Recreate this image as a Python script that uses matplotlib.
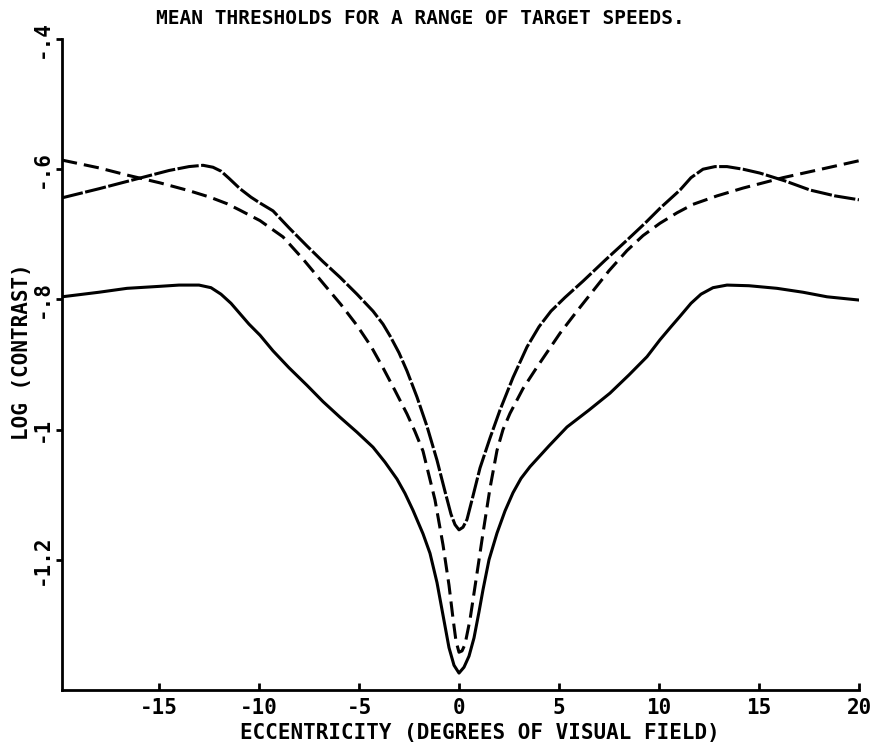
import matplotlib
matplotlib.use("Agg")
import matplotlib.pyplot as plt

# eccentricity (deg) and log contrast
x_solid = [-19.85, -18, -16.6, -15, -14, -13, -12.4, -11.9, -11.4, -10.95, -10.5, -9.95,
           -9.3, -8.5, -7.6, -6.8, -5.95, -5.1, -4.3, -3.7, -3.1, -2.7, -2.3, -1.8, -1.45,
           -1.1, -0.8, -0.5, -0.25, 0, 0.25, 0.5, 0.75, 1.0, 1.2, 1.5, 1.9, 2.3, 2.7,
           3.1, 3.55, 4.5, 5.4, 6.5, 7.55, 8.5, 9.4, 10.05, 10.6, 11.05, 11.6, 12.1,
           12.7, 13.4, 14.5, 15.9, 17.2, 18.4, 20.0]
y_solid = [-0.796, -0.789, -0.783, -0.780, -0.778, -0.778, -0.782, -0.792, -0.806, -0.822,
           -0.838, -0.855, -0.879, -0.905, -0.932, -0.957, -0.981, -1.004, -1.027, -1.050,
           -1.076, -1.098, -1.124, -1.160, -1.190, -1.235, -1.285, -1.335, -1.362, -1.374,
           -1.365, -1.348, -1.320, -1.280, -1.246, -1.200, -1.159, -1.125, -1.097, -1.075,
           -1.057, -1.025, -0.996, -0.970, -0.944, -0.916, -0.888, -0.862, -0.842, -0.826,
           -0.806, -0.792, -0.782, -0.778, -0.779, -0.783, -0.789, -0.796, -0.801]

x_peak = [-19.85, -18, -16, -14.5, -13.5, -12.8, -12.3, -11.9, -11.5, -10.95, -10.4,
          -9.95, -9.3, -8.5, -7.6, -6.8, -5.95, -5.1, -4.3, -3.8, -3.45, -3.0, -2.6,
          -2.1, -1.6, -1.1, -0.7, -0.4, -0.2, 0, 0.2, 0.4, 0.65, 1.05, 1.55, 2.05, 2.7,
          3.4, 4.0, 4.6, 5.3, 6.2, 7.3, 8.4, 9.3, 10.05, 11.05, 11.6, 12.2, 12.8, 13.4,
          14.2, 15.05, 16.3, 17.55, 18.8, 20.0]
y_peak = [-0.644, -0.630, -0.614, -0.602, -0.596, -0.594, -0.597, -0.603, -0.614, -0.630,
          -0.643, -0.652, -0.664, -0.690, -0.718, -0.742, -0.766, -0.792, -0.818, -0.838,
          -0.856, -0.882, -0.910, -0.950, -0.995, -1.047, -1.095, -1.130, -1.146, -1.154,
          -1.150, -1.138, -1.108, -1.059, -1.013, -0.970, -0.920, -0.873, -0.842, -0.818,
          -0.797, -0.772, -0.740, -0.709, -0.683, -0.660, -0.632, -0.613, -0.600, -0.596,
          -0.596, -0.600, -0.606, -0.618, -0.632, -0.641, -0.647]

x_dash = [-19.85, -18, -16.6, -14.95, -13.5, -12.45, -11.6, -10.95, -9.95, -8.8, -7.8,
          -6.8, -5.9, -5.1, -4.4, -3.8, -3.2, -2.6, -2.2, -1.8, -1.2, -0.8, -0.5, -0.3,
          -0.15, 0, 0.15, 0.3, 0.55, 0.85, 1.2, 1.55, 1.9, 2.2, 2.55, 3.2, 3.9, 5.05,
          5.9, 6.7, 7.5, 8.4, 9.2, 10.05, 10.9, 11.7, 12.9, 14.2, 16.2, 18.4, 20.0]
y_dash = [-0.586, -0.598, -0.609, -0.621, -0.633, -0.643, -0.653, -0.663, -0.679, -0.704,
          -0.738, -0.775, -0.808, -0.840, -0.872, -0.905, -0.940, -0.976, -1.003, -1.033,
          -1.108, -1.177, -1.239, -1.290, -1.325, -1.342, -1.340, -1.330, -1.292, -1.231,
          -1.159, -1.090, -1.032, -1.000, -0.975, -0.937, -0.904, -0.852, -0.818, -0.787,
          -0.756, -0.725, -0.702, -0.683, -0.667, -0.654, -0.641, -0.629, -0.613, -0.598,
          -0.587]

xticks = [-15, -10, -5, 0, 5, 10, 15, 20]
xticklabels = ['-15', '-10', '-5', '0', '5', '10', '15', '20']
yticks = [-0.4, -0.6, -0.8, -1.0, -1.2]
yticklabels = ['-.4', '-.6', '-.8', '-1', '-1.2']

font = 'DejaVu Sans Mono'

fig = plt.figure(figsize=(8.73, 7.46), dpi=100)
ax = fig.add_axes([62/873, 1 - 690/746, (859 - 62)/873, (690 - 39)/746])

ax.plot(x_solid, y_solid, color='black', lw=2.2)
ax.plot(x_peak, y_peak, color='black', lw=2.2, dashes=(7, 0.8))
ax.plot(x_dash, y_dash, color='black', lw=2.2, dashes=(5, 2.3))

ax.set_xlim(-19.85, 20)
ax.set_ylim(-1.4, -0.4)
ax.spines['top'].set_visible(False)
ax.spines['right'].set_visible(False)
ax.spines['left'].set_linewidth(2)
ax.spines['bottom'].set_linewidth(2)

ax.set_xticks(xticks)
ax.set_xticklabels(xticklabels, fontfamily=font, fontweight='bold', fontsize=15)
ax.set_yticks(yticks)
ax.set_yticklabels(yticklabels, fontfamily=font, fontweight='bold', fontsize=15,
                   rotation=90, va='center')
ax.tick_params(axis='x', direction='in', length=5, width=2, pad=6)
ax.tick_params(axis='y', direction='out', length=4, width=2, pad=3)

fig.text(420/873, 1 - 18/746, 'MEAN THRESHOLDS FOR A RANGE OF TARGET SPEEDS.',
         ha='center', va='center', fontfamily=font, fontweight='bold', fontsize=14)
fig.text(480/873, 1 - 733/746, 'ECCENTRICITY (DEGREES OF VISUAL FIELD)',
         ha='center', va='center', fontfamily=font, fontweight='bold', fontsize=15)
fig.text(22/873, 1 - 352/746, 'LOG (CONTRAST)', rotation=90,
         ha='center', va='center', fontfamily=font, fontweight='bold', fontsize=15)

fig.savefig('out.png', dpi=100)
